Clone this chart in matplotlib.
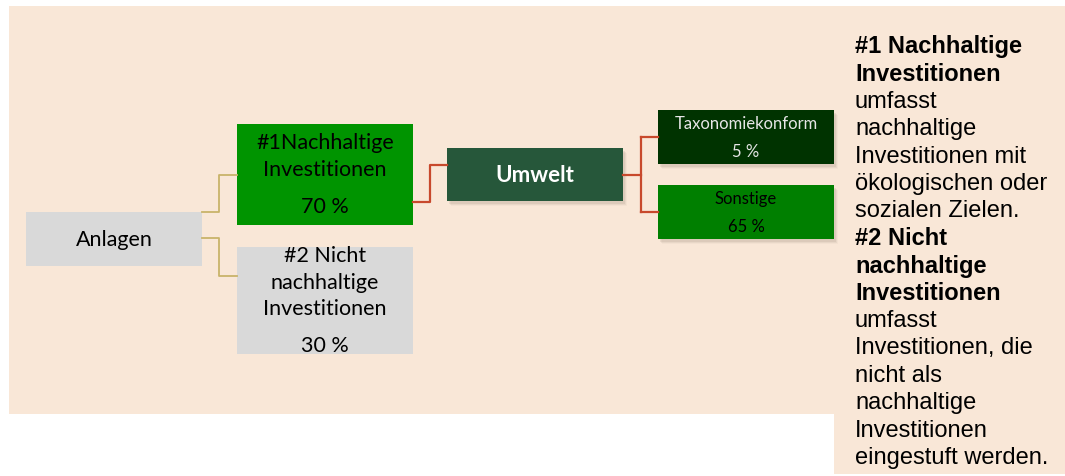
import matplotlib.pyplot as plt
from matplotlib.patches import Rectangle

# data
root_label = "Anlagen"
level1_labels = [["#1Nachhaltige", "Investitionen"], ["#2 Nicht", "nachhaltige", "Investitionen"]]
level1_shares = ["70 %", "30 %"]
level2_label = "Umwelt"
level3_labels = ["Taxonomiekonform", "Sonstige"]
level3_shares = ["5 %", "65 %"]
note_lines = [
    ("#1 Nachhaltige", "bold"), ("Investitionen", "bold"),
    ("umfasst", "normal"), ("nachhaltige", "normal"), ("Investitionen mit", "normal"),
    ("ökologischen oder", "normal"), ("sozialen Zielen.", "normal"),
    ("#2 Nicht", "bold"), ("nachhaltige", "bold"), ("Investitionen", "bold"),
    ("umfasst", "normal"), ("Investitionen, die", "normal"), ("nicht als", "normal"),
    ("nachhaltige", "normal"), ("Investitionen", "normal"), ("eingestuft werden.", "normal"),
]

bg = "#F9E7D7"
grey = "#D9D9D9"
tan = "#C9B46A"
red = "#C8492C"
box_font = "Lato"

fig = plt.figure(figsize=(10.65, 4.77), dpi=100)
ax = fig.add_axes([0, 0, 1, 1])
ax.set_xlim(0, 1065)
ax.set_ylim(477, 0)
ax.axis("off")

# background panels
ax.add_patch(Rectangle((9, 7), 1056, 408, color=bg, lw=0))
ax.add_patch(Rectangle((834, 7), 231, 468, color=bg, lw=0))


def box(x0, y0, x1, y1, color, shadow=False):
    if shadow:
        for i, a in enumerate([0.10, 0.07, 0.04]):
            ax.add_patch(Rectangle((x0 + 2 + i, y0 + 3 + i), x1 - x0, y1 - y0,
                                   color="#6b5a4a", alpha=a, lw=0))
    ax.add_patch(Rectangle((x0, y0), x1 - x0, y1 - y0, color=color, lw=0))


def lines(x, ys, texts, **kw):
    for yy, t in zip(ys, texts):
        ax.text(x, yy, t, ha="center", va="center", **kw)


# connectors
ax.plot([202, 219, 219, 237], [213, 213, 176, 176], color=tan, lw=1.3)
ax.plot([202, 219, 219, 237], [239, 239, 277, 277], color=tan, lw=1.3)
ax.plot([413, 430, 430, 447], [203, 203, 166, 166], color=red, lw=1.6)
ax.plot([623, 641], [176, 176], color=red, lw=1.6)
ax.plot([641, 641], [138, 213], color=red, lw=1.6)
ax.plot([641, 658], [138, 138], color=red, lw=1.6)
ax.plot([641, 658], [213, 213], color=red, lw=1.6)

big = dict(fontsize=15.5, family=box_font)
small = dict(fontsize=12, family=box_font)

# boxes
box(26, 213, 202, 267, grey)
ax.text(114, 240, root_label, ha="center", va="center", **big)

box(237, 125, 413, 226, "#009400")
lines(325, [143, 170, 207], level1_labels[0] + [level1_shares[0]], **big)

box(237, 248, 413, 355, grey)
lines(325, [256, 283, 309, 346], level1_labels[1] + [level1_shares[1]], **big)

box(447, 149, 623, 202, "#26573A", shadow=True)
ax.text(535, 176, level2_label, ha="center", va="center", fontsize=16,
        family=box_font, weight="bold", color="white")

box(658, 111, 834, 165, "#003300", shadow=True)
lines(746, [124, 152], [level3_labels[0], level3_shares[0]], color="#E6E6E6", **small)

box(658, 186, 834, 240, "#007F00", shadow=True)
lines(746, [199, 227], [level3_labels[1], level3_shares[1]], color="black", **small)

# side notes
for i, (txt, wt) in enumerate(note_lines):
    ax.text(855, 47 + 27.4 * i, txt, ha="left", va="center", fontsize=17,
            weight=wt, family="Liberation Sans")

fig.savefig("out.png", dpi=100)
